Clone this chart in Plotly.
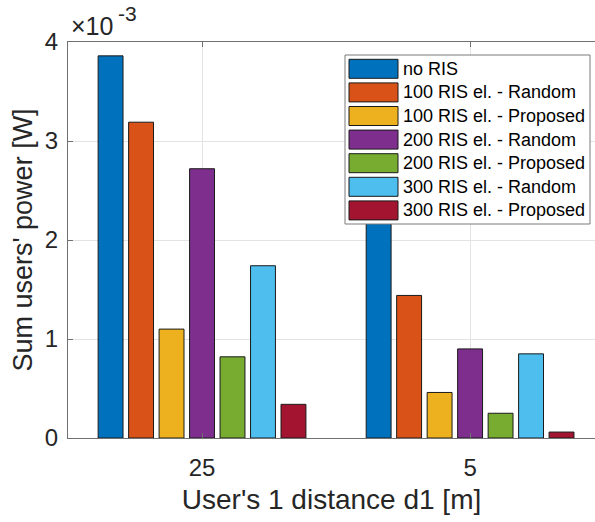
import plotly.graph_objects as go

# ---- data ----
distances = ["25", "5"]
series_names = [
    "no RIS",
    "100 RIS el. - Random",
    "100 RIS el. - Proposed",
    "200 RIS el. - Random",
    "200 RIS el. - Proposed",
    "300 RIS el. - Random",
    "300 RIS el. - Proposed",
]
no_ris = [3.86e-3, 2.60e-3]
ris100_random = [3.19e-3, 1.44e-3]
ris100_proposed = [1.10e-3, 0.46e-3]
ris200_random = [2.72e-3, 0.90e-3]
ris200_proposed = [0.82e-3, 0.25e-3]
ris300_random = [1.74e-3, 0.85e-3]
ris300_proposed = [0.34e-3, 0.06e-3]
series_values = [no_ris, ris100_random, ris100_proposed, ris200_random,
                 ris200_proposed, ris300_random, ris300_proposed]
y_tickvals = [0, 1e-3, 2e-3, 3e-3, 4e-3]
y_ticktext = ["0", "1", "2", "3", "4"]

colors = ["#0072BD", "#D95319", "#EDB120", "#7E2F8E", "#77AC30", "#4DBEEE", "#A2142F"]

FONT = "Liberation Sans, Arial, Helvetica, sans-serif"
TXT = "#262626"
AX = "#707070"

W, H = 595, 522
ML, MR, MT, MB = 68, 0, 42, 84
PW, PH = W - ML - MR, H - MT - MB

fig = go.Figure()
for name, vals, col in zip(series_names, series_values, colors):
    fig.add_trace(go.Bar(
        x=distances, y=vals, name=name,
        marker=dict(color=col, line=dict(color="#1a1a1a", width=1)),
        showlegend=False,
    ))

def px2x(px):
    return (px - ML) / PW

def py2y(py):
    return (H - MB - py) / PH

# custom legend (MATLAB-like wide swatches)
shapes = []
annotations = []
lg_x0, lg_x1, lg_y0, lg_y1 = 345, 590, 55, 224
shapes.append(dict(type="rect", xref="paper", yref="paper", layer="above",
                   x0=px2x(lg_x0), x1=px2x(lg_x1), y0=py2y(lg_y1), y1=py2y(lg_y0),
                   fillcolor="white", line=dict(color="#7a7a7a", width=1)))
row0, pitch = 68.8, 23.6
for i, (name, col) in enumerate(zip(series_names, colors)):
    cy = row0 + pitch * i
    shapes.append(dict(type="rect", xref="paper", yref="paper", layer="above",
                       x0=px2x(349), x1=px2x(398), y0=py2y(cy + 9.5), y1=py2y(cy - 9.5),
                       fillcolor=col, line=dict(color="#1a1a1a", width=1)))
    annotations.append(dict(xref="paper", yref="paper", x=px2x(401), y=py2y(cy),
                            xanchor="left", yanchor="middle", showarrow=False,
                            text=name, font=dict(family=FONT, size=18, color="black")))

# exponent label (×10^-3) drawn as two pieces, like MATLAB
annotations.append(dict(xref="paper", yref="paper", x=px2x(69), y=py2y(26),
                        xanchor="left", yanchor="middle", showarrow=False,
                        text="×10", font=dict(family=FONT, size=25, color=TXT)))
annotations.append(dict(xref="paper", yref="paper", x=px2x(116), y=py2y(14),
                        xanchor="left", yanchor="middle", showarrow=False,
                        text="-3", font=dict(family=FONT, size=21, color=TXT)))

fig.update_layout(
    width=W, height=H,
    margin=dict(l=ML, r=MR, t=MT, b=MB),
    paper_bgcolor="white", plot_bgcolor="white",
    barmode="group", bargap=0.204, bargroupgap=0.183,
    font=dict(family=FONT, color=TXT),
    shapes=shapes, annotations=annotations,
    showlegend=False,
)
fig.update_xaxes(
    type="category", range=[-0.5, 1.466],
    showline=True, linecolor=AX, linewidth=1, mirror="ticks",
    ticks="inside", ticklen=5, tickcolor=AX,
    showgrid=True, gridcolor="#e3e3e3", gridwidth=1,
    tickfont=dict(family=FONT, size=24, color=TXT),
    ticklabelstandoff=8,
    title=dict(text="User's 1 distance d1 [m]", font=dict(family=FONT, size=28, color=TXT), standoff=9),
)
fig.update_yaxes(
    range=[0, 4e-3], tickvals=y_tickvals, ticktext=y_ticktext,
    showline=True, linecolor=AX, linewidth=1, mirror=False,
    ticks="inside", ticklen=5, tickcolor=AX,
    showgrid=True, gridcolor="#e3e3e3", gridwidth=1, zeroline=False,
    tickfont=dict(family=FONT, size=24, color=TXT),
    ticklabelstandoff=4,
    title=dict(text="Sum users' power [W]", font=dict(family=FONT, size=27, color=TXT), standoff=4),
)

fig.write_html("out.html")
